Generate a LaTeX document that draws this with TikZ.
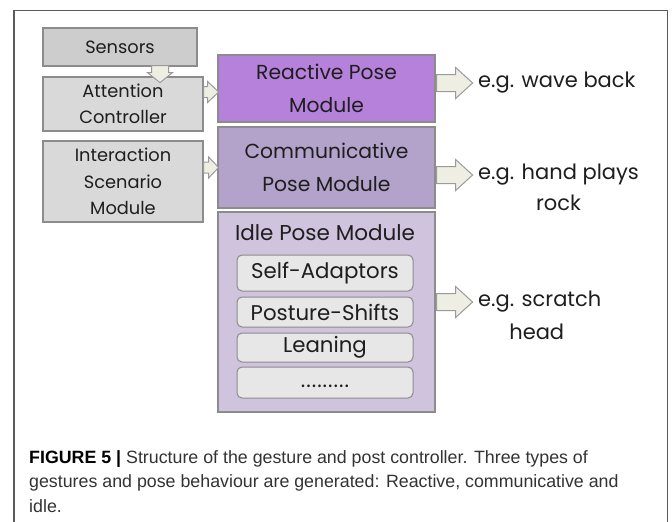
\documentclass[tikz,border=0pt]{standalone}
\usepackage{fontspec}
\setmainfont{Poppins}
\newfontfamily\capfont{Liberation Sans}
\usetikzlibrary{calc}
\definecolor{frameline}{HTML}{5A5A5A}
\definecolor{boxline}{HTML}{8C8C8C}
\definecolor{sensfill}{HTML}{CDCDCD}
\definecolor{grayfill}{HTML}{D9D9D9}
\definecolor{reactfill}{HTML}{B581DA}
\definecolor{commfill}{HTML}{B3A2C9}
\definecolor{idlefill}{HTML}{CFC3DD}
\definecolor{innerfill}{HTML}{E7E7E7}
\definecolor{arrfill}{HTML}{EEEEE3}
\definecolor{arrline}{HTML}{9A9A9A}
\definecolor{txt}{HTML}{1E1E1E}
\definecolor{captxt}{HTML}{333333}
\newcommand\blockarr[6]{%
  \path[barr, shift={#1}, rotate=#2] (0,#4) -- ({#3-#6},#4) -- ({#3-#6},#5) -- (#3,0)
    -- ({#3-#6},-#5) -- ({#3-#6},-#4) -- (0,-#4) -- cycle;}
\begin{document}
\begin{tikzpicture}[x=1pt,y=-1pt,
  every node/.style={text=txt},
  graybox/.style={draw=boxline, line width=1.2pt, fill=grayfill, minimum width=160pt,
    align=center, inner sep=0pt, font=\fontsize{17.8}{26.5}\selectfont},
  modbox/.style={draw=boxline, line width=1.2pt, minimum width=217pt,
    align=center, inner sep=0pt, font=\fontsize{20.3}{32.5}\selectfont},
  innerbox/.style={draw=boxline, line width=1pt, fill=innerfill, rounded corners=5pt,
    minimum width=176pt, inner sep=0pt, font=\fontsize{21.3}{24}\selectfont},
  extext/.style={inner sep=0pt, font=\fontsize{21}{24}\selectfont},
  barr/.style={draw=arrline, fill=arrfill, line width=1pt, line join=miter}]
\fill[white] (0,0) rectangle (672,522);
\useasboundingbox (0,0) rectangle (672,522);
\draw[frameline, line width=1.3pt] (14,523) -- (14,10.5) -- (667.5,10.5) -- (667.5,523);

% left column
\node[graybox, fill=sensfill, minimum width=154pt, minimum height=38pt] (sens) at (120,47) {Sensors};
\node[graybox, minimum height=54pt] (att) at (123,104) {Attention\\Controller};
\node[graybox, minimum height=81pt] (inter) at (123,181.5) {Interaction\\Scenario\\Module};

% modules
\node[modbox, fill=reactfill, minimum height=67pt] (react) at (326.5,88.5) {Reactive Pose\\Module};
\node[modbox, fill=commfill, minimum height=81pt] (comm) at (326.5,167.5) {Communicative\\Pose Module};
\node[modbox, fill=idlefill, minimum height=200pt] (idle) at (326.5,312) {};
\node[inner sep=0pt, font=\fontsize{21.5}{24}\selectfont] (idlet) at (325,233) {Idle Pose Module};
\node[innerbox, minimum height=36pt] (self) at (325,273) {Self-Adaptors};
\node[innerbox, minimum height=30pt] (post) at (325,312) {Posture-Shifts};
\node[innerbox, minimum height=29pt] (lean) at (325,347.5) {Leaning};
\node[innerbox, minimum height=31pt] (dots) at (325,382.5) {\vphantom{Ag}.\kern1pt.\kern1pt.\kern1pt.\kern1pt.\kern1pt.\kern1pt.\kern1pt.\kern1pt.};

% examples
\node[extext, anchor=west] (ex1) at (478,83) {e.g. wave back};
\node[extext, anchor=west] (ex2) at (478,175) {e.g. hand plays};
\node[extext] (ex2b) at ($(ex2.center)+(0,28)$) {rock};
\node[extext, anchor=west] (ex3) at (478,302) {e.g. scratch};
\node[extext] (ex3b) at ($(ex3.center)+(-3,30)$) {head};

% arrows
\blockarr{($(sens.south)+(40,-1)$)}{-90}{17}{8.5}{12.5}{10}
\blockarr{($(att.east)+(0,-12)$)}{0}{15}{5.5}{10.5}{11}
\blockarr{($(inter.east |- comm.east)$)}{0}{15}{5.5}{10.5}{10}
\blockarr{($(react.east |- ex1.west)+(1,0)$)}{0}{36}{8.5}{15.5}{17}
\blockarr{($(comm.east |- ex2.west)+(1,0)$)}{0}{36}{8.5}{15.5}{17}
\blockarr{($(idle.east |- ex3.west)+(1,0)$)}{0}{36}{8.5}{15.5}{17}

% caption
\node[anchor=north west, inner sep=0pt, align=left, text=captxt,
  font=\capfont\fontsize{17.8}{24.5}\selectfont] (cap) at (29,450)
  {\textbf{\color{black}FIGURE 5 |} Structure of the gesture and post controller. Three types of\\
   gestures and pose behaviour are generated: Reactive, communicative and\\
   idle.};
\end{tikzpicture}
\end{document}
